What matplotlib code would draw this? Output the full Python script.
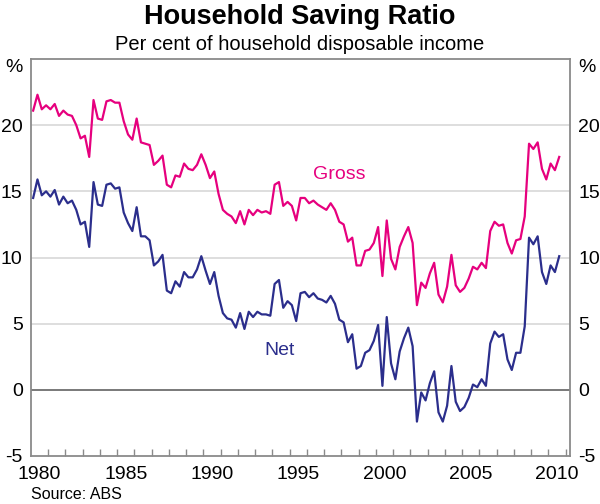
import numpy as np
import matplotlib
matplotlib.use('Agg')
import matplotlib.pyplot as plt
from matplotlib.ticker import FixedLocator, NullFormatter

plt.rcParams['font.family'] = ['Liberation Sans', 'DejaVu Sans']
plt.rcParams['axes.unicode_minus'] = False

# quarterly, March 1980 onwards
first_quarter = 1980.125
gross = [21.1, 22.3, 21.2, 21.5, 21.2, 21.6, 20.7, 21.1, 20.8, 20.7,
         20.0, 19.0, 19.2, 17.6, 21.9, 20.5, 20.4, 21.8, 21.9, 21.7,
         21.7, 20.3, 19.3, 18.9, 20.5, 18.7, 18.6, 18.5, 17.0, 17.3,
         17.7, 15.5, 15.3, 16.2, 16.1, 17.1, 16.7, 16.6, 17.0, 17.8,
         17.0, 16.0, 16.5, 14.8, 13.6, 13.3, 13.1, 12.6, 13.5, 12.5,
         13.6, 13.2, 13.6, 13.4, 13.5, 13.3, 15.5, 15.7, 13.9, 14.2,
         13.9, 12.8, 14.5, 14.5, 14.1, 14.3, 14.0, 13.8, 13.6, 14.1,
         13.6, 12.7, 12.5, 11.2, 11.5, 9.4, 9.4, 10.5, 10.6, 11.1,
         12.3, 8.6, 12.8, 9.9, 9.1, 10.8, 11.6, 12.3, 11.1, 6.4,
         8.1, 7.7, 8.8, 9.6, 7.2, 6.6, 7.8, 10.2, 7.9, 7.4,
         7.7, 8.4, 9.3, 9.1, 9.6, 9.2, 12.0, 12.7, 12.4, 12.5,
         11.1, 10.3, 11.3, 11.4, 13.1, 18.6, 18.2, 18.7, 16.7, 15.9,
         17.1, 16.6, 17.6]
net = [14.5, 15.9, 14.7, 15.0, 14.6, 15.1, 14.0, 14.6, 14.1, 14.3,
       13.6, 12.5, 12.7, 10.8, 15.7, 14.0, 13.9, 15.5, 15.6, 15.2,
       15.3, 13.4, 12.6, 12.0, 13.8, 11.6, 11.6, 11.3, 9.4, 9.7,
       10.2, 7.5, 7.3, 8.2, 7.8, 8.9, 8.5, 8.5, 9.1, 10.1,
       9.0, 8.0, 8.9, 7.1, 5.8, 5.4, 5.3, 4.7, 5.8, 4.6,
       5.9, 5.5, 5.9, 5.7, 5.7, 5.6, 8.0, 8.3, 6.2, 6.7,
       6.4, 5.2, 7.3, 7.4, 7.0, 7.3, 6.9, 6.8, 6.6, 7.1,
       6.5, 5.3, 5.1, 3.6, 4.2, 1.6, 1.8, 2.8, 3.0, 3.7,
       4.9, 0.3, 5.5, 2.0, 0.8, 2.9, 3.9, 4.7, 3.3, -2.4,
       -0.2, -0.8, 0.5, 1.4, -1.7, -2.4, -1.2, 1.8, -0.9, -1.6,
       -1.3, -0.6, 0.4, 0.2, 0.8, 0.3, 3.5, 4.4, 4.0, 4.2,
       2.3, 1.5, 2.8, 2.8, 4.8, 11.5, 11.0, 11.6, 8.9, 8.0,
       9.4, 8.9, 10.1]

year_labels = ['1980', '1985', '1990', '1995', '2000', '2005', '2010']
y_ticks = [-5, 0, 5, 10, 15, 20]

pink = '#e6007e'
navy = '#2b2e8c'
frame = '#8a8a8a'

x = first_quarter + 0.25 * np.arange(len(gross))

fig = plt.figure(figsize=(6, 5.04), dpi=100)
ax = fig.add_axes([31/600, 1 - 456/504, 539/600, 397/504])

for v in [5, 10, 15, 20]:
    ax.axhline(v, color='#d4d4d4', lw=1.1, zorder=1)
ax.axhline(0, color='#555555', lw=1.1, zorder=1)

ax.plot(x, gross, color=pink, lw=1.6, zorder=3)
ax.plot(x, net, color=navy, lw=1.6, zorder=3)

ax.text(1997.9, 16.3, 'Gross', color=pink, fontsize=14, ha='center', va='center')
ax.text(1994.4, 3.0, 'Net', color=navy, fontsize=14, ha='center', va='center')

ax.set_xlim(1980, 2011.25)
ax.set_ylim(-5, 25)

ax.set_xticks([int(y) + 0.5 for y in year_labels])
ax.set_xticklabels(year_labels)
ax.xaxis.set_minor_locator(FixedLocator(range(1981, 2012)))
ax.xaxis.set_minor_formatter(NullFormatter())
ax.tick_params(axis='x', which='major', length=0, labelsize=14, pad=7)
ax.tick_params(axis='x', which='minor', direction='in', length=5,
               width=1, color=frame)

ax.set_yticks(y_ticks)
ax.tick_params(axis='y', length=0, labelsize=14, pad=6,
               labelleft=True, labelright=True)

for s in ax.spines.values():
    s.set_color(frame)
    s.set_linewidth(1.3)

fig.text(23/600, 1 - 68/504, '%', fontsize=14, ha='right', va='center')
fig.text(578/600, 1 - 68/504, '%', fontsize=14, ha='left', va='center')

fig.text(0.5, 1 - 24/504, 'Household Saving Ratio', fontsize=19.5,
         fontweight='bold', ha='center', va='baseline')
fig.text(0.5, 1 - 50/504, 'Per cent of household disposable income',
         fontsize=14.5, ha='center', va='baseline')
fig.text(31/600, 1 - 499/504, 'Source: ABS', fontsize=11.5,
         ha='left', va='baseline')

fig.savefig('out.png', dpi=100)
